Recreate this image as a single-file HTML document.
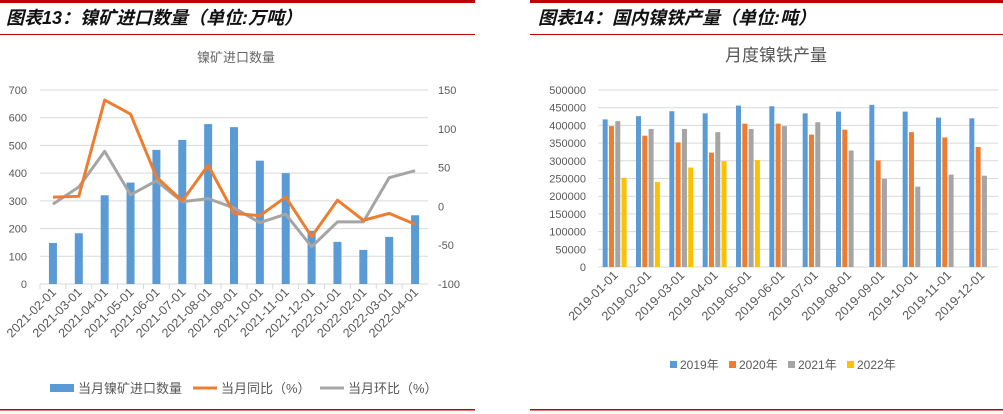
<!DOCTYPE html>
<html><head><meta charset="utf-8"><style>
body{margin:0;background:#fff;}
svg{display:block;font-family:"Liberation Sans","Noto Sans CJK SC",sans-serif;}
</style></head><body>
<svg id="s" width="1003" height="414" xmlns="http://www.w3.org/2000/svg">
<rect x="0" y="0" width="1003" height="414" fill="#fff"/>
<rect x="0" y="0" width="475" height="3" fill="#c00000"/>
<rect x="0" y="34" width="475" height="1" fill="#c00000"/>
<rect x="0" y="409" width="475" height="1.5" fill="#c00000"/>
<rect x="530" y="0" width="473" height="3" fill="#c00000"/>
<rect x="530" y="34" width="473" height="1" fill="#c00000"/>
<rect x="530" y="409" width="473" height="1.5" fill="#c00000"/>
<text x="6" y="24" font-size="18" font-weight="bold" font-style="italic" fill="#111">图表13：镍矿进口数量（单位:万吨）</text>
<text x="538" y="24" font-size="18" font-weight="bold" font-style="italic" fill="#111">图表14：国内镍铁产量（单位:吨）</text>
<text x="236" y="62" font-size="13" fill="#666" text-anchor="middle">镍矿进口数量</text>
<text x="776" y="61" font-size="17" fill="#555" text-anchor="middle">月度镍铁产量</text>
<g id="L"></g><g id="R"></g>
</svg>
<script>
const lCats=["2021-02-01","2021-03-01","2021-04-01","2021-05-01","2021-06-01","2021-07-01","2021-08-01","2021-09-01","2021-10-01","2021-11-01","2021-12-01","2022-01-01","2022-02-01","2022-03-01","2022-04-01"];
const imports=[148,183,320,366,484,520,577,566,445,400,192,152,123,170,248];
const yoy=[12,13,137,119,38,7,53,-9,-12,12,-39,8,-18,-9,-23];
const mom=[3,25,71,15,33,6,10,-2,-21,-10,-52,-20,-20,37,46];
const lTicks=[0,100,200,300,400,500,600,700];
const rTicks=[-100,-50,0,50,100,150];
const rCats=["2019-01-01","2019-02-01","2019-03-01","2019-04-01","2019-05-01","2019-06-01","2019-07-01","2019-08-01","2019-09-01","2019-10-01","2019-11-01","2019-12-01"];
const s2019=[417000,426000,440000,434000,456000,454000,434000,439000,458000,439000,422000,420000];
const s2020=[398000,371000,352000,323000,405000,405000,374000,388000,301000,381000,366000,339000];
const s2021=[412000,390000,390000,381000,390000,398000,409000,329000,249000,227000,261000,258000];
const s2022=[252000,240000,281000,299000,302000];
const pTicks=[0,50000,100000,150000,200000,250000,300000,350000,400000,450000,500000];
const seriesNames=["2019年","2020年","2021年","2022年"];
const NS="http://www.w3.org/2000/svg";
function mk(g,t,a,txt){const e=document.createElementNS(NS,t);for(const k in a)e.setAttribute(k,a[k]);if(txt!==undefined)e.textContent=txt;g.appendChild(e);return e;}
const L=document.getElementById('L');
const lx0=40,lx1=428,ly0=284,ly1=90;
const lStep=(lx1-lx0)/lCats.length;
const lX=i=>lx0+lStep*(i+0.5);
const lY=v=>ly0-(v/700)*(ly0-ly1);
const rY=v=>ly0-((v+100)/250)*(ly0-ly1);
lTicks.forEach(v=>{
 let e=mk(L,'line',{x1:lx0,x2:lx1,y1:lY(v),y2:lY(v),stroke:'#d9d9d9','stroke-width':1});
 
 
 e=mk(L,'text',{x:27,y:lY(v)+4,'font-size':11,fill:'#595959','text-anchor':'end'},v);
 
 
});
rTicks.forEach(v=>{
 const e=mk(L,'text',{x:438,y:rY(v)+4,'font-size':11,fill:'#595959'},v);
 
 
});
lCats.forEach((c,i)=>{
 let e=mk(L,'line',{x1:lx0+lStep*i,x2:lx0+lStep*i,y1:ly0,y2:ly0+5,stroke:'#d9d9d9'});
 
 
 e=mk(L,'rect',{x:lX(i)-4,y:lY(imports[i]),width:8,height:ly0-lY(imports[i]),fill:'#5b9bd5'});
 
 
 const x=lX(i)+4,y=293;
 e=mk(L,'text',{x:x,y:y,'font-size':12.5,fill:'#595959','text-anchor':'end',transform:`rotate(-45 ${x} ${y})`},c);
 
 
});
function line(g,vals,fx,fy,col,name){const p=vals.map((v,i)=>fx(i)+','+fy(v)).join(' ');const e=mk(g,'polyline',{points:p,fill:'none',stroke:col,'stroke-width':3,'stroke-linejoin':'round'});}
line(L,mom,lX,rY,'#a5a5a5','mom-line');
line(L,yoy,lX,rY,'#ed7d31','yoy-line');
[[50,'#5b9bd5','当月镍矿进口数量',8,'legend-import'],[193,'#ed7d31','当月同比（%）',3,'legend-yoy'],[320,'#a5a5a5','当月环比（%）',3,'legend-mom']].forEach(([x,c,t,h,n])=>{
 let e=mk(L,'rect',{x:x,y:388-h/2,width:24,height:h,fill:c});
 
 
 e=mk(L,'text',{x:x+28,y:393,'font-size':13,fill:'#595959'},t);
 
 
});
const R=document.getElementById('R');
const px0=598,px1=998,py0=267,py1=90;
const pStep=(px1-px0)/rCats.length;
const pY=v=>py0-(v/500000)*(py0-py1);
pTicks.forEach(v=>{
 let e=mk(R,'line',{x1:px0,x2:px1,y1:pY(v),y2:pY(v),stroke:'#d9d9d9'});
 
 
 e=mk(R,'text',{x:586,y:pY(v)+4,'font-size':11,fill:'#595959','text-anchor':'end'},v);
 
 
});
const cols=['#5b9bd5','#ed7d31','#a5a5a5','#ffc000'];
const all=[s2019,s2020,s2021,s2022];
rCats.forEach((c,i)=>{
 const cx=px0+pStep*(i+0.5);
 all.forEach((s,k)=>{
  if(s[i]===undefined)return;
  const e=mk(R,'rect',{x:cx-12+k*6.3,y:pY(s[i]),width:5,height:py0-pY(s[i]),fill:cols[k]});
  
  
 });
 const x=cx+4,y=276;
 const e=mk(R,'text',{x:x,y:y,'font-size':12.5,fill:'#595959','text-anchor':'end',transform:`rotate(-45 ${x} ${y})`},c);
 
 
});
seriesNames.forEach((n,k)=>{
 const x=670+k*59;
 let e=mk(R,'rect',{x:x,y:361,width:7,height:7,fill:cols[k]});
 
 
 e=mk(R,'text',{x:x+10,y:369,'font-size':12,fill:'#595959'},n);
 
 
});
</script>
</body></html>
